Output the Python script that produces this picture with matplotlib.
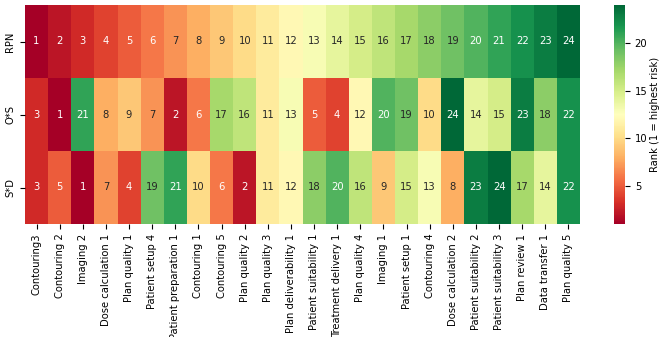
import numpy as np
import matplotlib
matplotlib.use("Agg")
import matplotlib.pyplot as plt
import seaborn as sns

steps = ["Contouring3", "Contouring 2", "Imaging 2", "Dose calculation 1", "Plan quality 1",
         "Patient setup 4", "Patient preparation 1", "Contouring 1", "Contouring 5", "Plan quality 2",
         "Plan quality 3", "Plan deliverability 1", "Patient suitability 1", "Treatment delivery 1",
         "Plan quality 4", "Imaging 1", "Patient setup 1", "Contouring 4", "Dose calculation 2",
         "Patient suitability 2", "Patient suitability 3", "Plan review 1", "Data transfer 1",
         "Plan quality 5"]
metrics = ["RPN", "O*S", "S*D"]

rpn_rank = [1, 2, 3, 4, 5, 6, 7, 8, 9, 10, 11, 12, 13, 14, 15, 16, 17, 18, 19, 20, 21, 22, 23, 24]
os_rank = [3, 1, 21, 8, 9, 7, 2, 6, 17, 16, 11, 13, 5, 4, 12, 20, 19, 10, 24, 14, 15, 23, 18, 22]
sd_rank = [3, 5, 1, 7, 4, 19, 21, 10, 6, 2, 11, 12, 18, 20, 16, 9, 15, 13, 8, 23, 24, 17, 14, 22]

ranks = np.array([rpn_rank, os_rank, sd_rank])

fs = 7.2
plt.rcParams["font.size"] = fs

fig = plt.figure(figsize=(6.61, 3.37), dpi=100)
ax = fig.add_axes([25 / 661, 1 - 224 / 337, 555 / 661, 219 / 337])
cax = fig.add_axes([614 / 661, 1 - 224 / 337, 11 / 661, 219 / 337])

sns.heatmap(ranks, ax=ax, cbar_ax=cax, cmap="RdYlGn", annot=True, fmt="d",
            annot_kws={"size": fs},
            xticklabels=steps, yticklabels=metrics)
ax.set_yticklabels(metrics, rotation=90, va="center", fontsize=fs)
ax.set_xticklabels(steps, rotation=90, fontsize=fs)
cax.set_yticks([5, 10, 15, 20])
cax.tick_params(labelsize=fs)
cax.set_ylabel("Rank (1 = highest risk)", fontsize=fs, labelpad=2)

fig.savefig("out.png", dpi=100)
